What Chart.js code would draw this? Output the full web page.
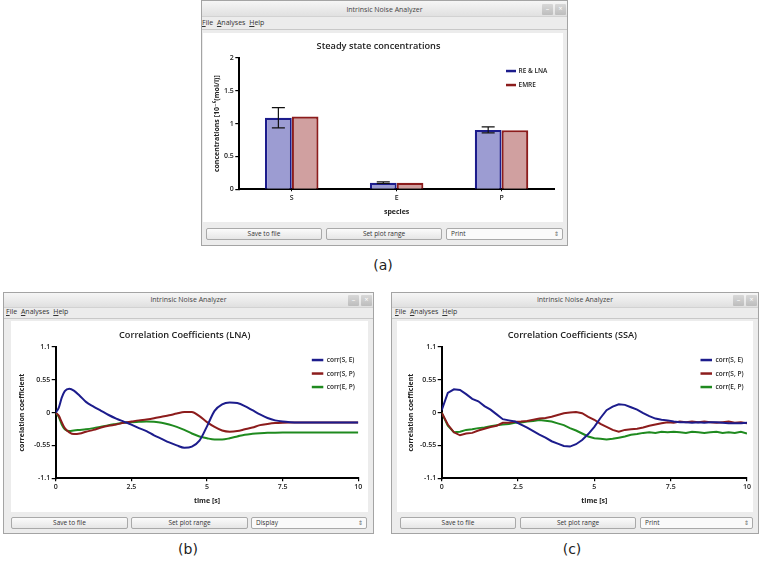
<!DOCTYPE html>
<html>
<head>
<meta charset="utf-8">
<script src="https://cdn.jsdelivr.net/npm/chart.js@4.4.1/dist/chart.umd.min.js"></script>
<style>
  body { margin: 0; width: 765px; height: 561px; background: #fff; position: relative; overflow: hidden; font-family: "Open Sans", "DejaVu Sans", sans-serif; color: #333; }
  .win { position: absolute; background: #ececec; border: 1px solid #a4a4a4; box-sizing: border-box; }
  .tbar { position: absolute; background: linear-gradient(#f6f6f6, #e0e0e0); font-size: 7px; color: #444; text-align: center; border-bottom: 1px solid #d2d2d2; box-sizing: border-box; }
  .wb { position: absolute; width: 11px; height: 11px; background: linear-gradient(#d8d8d8, #bdbdbd); border-radius: 1px; color: #fff; font-size: 7px; line-height: 10px; text-align: center; }
  .menu { position: absolute; font-size: 7px; color: #333; white-space: nowrap; }
  .menu span { margin-right: 2px; }
  .sep { position: absolute; height: 1px; background: #c8c8c8; }
  .panel { position: absolute; background: #fff; }
  .btn { position: absolute; height: 12px; border: 1px solid #a9a9a9; border-radius: 2px; background: linear-gradient(#fbfbfb, #e6e6e6); font-size: 6.5px; line-height: 10px; text-align: center; box-sizing: border-box; color: #333; }
  .combo { text-align: left; padding-left: 4px; background: #fafafa; }
  .combo i { position: absolute; right: 3px; top: 0; font-style: normal; font-size: 6px; color: #666; }
  .cap { position: absolute; font-size: 14px; color: #222; transform: translate(-50%, -50%); font-family: "DejaVu Sans", sans-serif; }
  canvas { position: absolute; }
</style>
</head>
<body>

<!-- (a) -->
<div class="win" style="left:201px;top:0px;width:367px;height:246px"></div>
<div class="tbar" style="left:202px;top:1px;width:365px;height:16px;line-height:17px">Intrinsic Noise Analyzer</div>
<div class="wb" style="left:542px;top:4px">&ndash;</div>
<div class="wb" style="left:555px;top:4px">&times;</div>
<div class="menu" style="left:202px;top:18px"><span><u>F</u>ile</span> <span><u>A</u>nalyses</span> <span><u>H</u>elp</span></div>
<div class="sep" style="left:202px;top:29px;width:365px"></div>
<div class="panel" style="left:203px;top:33px;width:360px;height:189px"></div>
<canvas id="steady" width="360" height="189" style="left:203px;top:33px"></canvas>
<div class="btn" style="left:206px;top:228px;width:116px">Save to file</div>
<div class="btn" style="left:326px;top:228px;width:116px">Set plot range</div>
<div class="btn combo" style="left:446px;top:228px;width:117px">Print<i>&#8661;</i></div>
<div class="cap" style="left:383px;top:265px">(a)</div>

<!-- (b) -->
<div class="win" style="left:3px;top:292px;width:371px;height:242px"></div>
<div class="tbar" style="left:4px;top:293px;width:369px;height:15px;line-height:14px">Intrinsic Noise Analyzer</div>
<div class="wb" style="left:348px;top:295px">&ndash;</div>
<div class="wb" style="left:361px;top:295px">&times;</div>
<div class="menu" style="left:6px;top:307px"><span><u>F</u>ile</span> <span><u>A</u>nalyses</span> <span><u>H</u>elp</span></div>
<div class="sep" style="left:4px;top:318px;width:369px"></div>
<div class="panel" style="left:11px;top:321px;width:357px;height:191px"></div>
<canvas id="lna" width="357" height="191" style="left:11px;top:321px"></canvas>
<div class="btn" style="left:11px;top:517px;width:117px">Save to file</div>
<div class="btn" style="left:131px;top:517px;width:117px">Set plot range</div>
<div class="btn combo" style="left:251px;top:517px;width:116px">Display<i>&#8661;</i></div>
<div class="cap" style="left:188px;top:549px">(b)</div>

<!-- (c) -->
<div class="win" style="left:391px;top:292px;width:368px;height:242px"></div>
<div class="tbar" style="left:392px;top:293px;width:366px;height:15px;line-height:14px">Intrinsic Noise Analyzer</div>
<div class="wb" style="left:733px;top:295px">&ndash;</div>
<div class="wb" style="left:746px;top:295px">&times;</div>
<div class="menu" style="left:395px;top:307px"><span><u>F</u>ile</span> <span><u>A</u>nalyses</span> <span><u>H</u>elp</span></div>
<div class="sep" style="left:392px;top:318px;width:366px"></div>
<div class="panel" style="left:397px;top:321px;width:356px;height:191px"></div>
<canvas id="ssa" width="356" height="191" style="left:397px;top:321px"></canvas>
<div class="btn" style="left:400px;top:517px;width:116px">Save to file</div>
<div class="btn" style="left:520px;top:517px;width:116px">Set plot range</div>
<div class="btn combo" style="left:640px;top:517px;width:113px">Print<i>&#8661;</i></div>
<div class="cap" style="left:572px;top:549px">(c)</div>

<script>
// steady state bars
const species = ["S", "E", "P"];
const reLna = [1.09, 0.1, 0.905];
const reLnaErr = [0.155, 0.012, 0.046];
const emre = [1.11, 0.1, 0.9];
const concTicks = [0, 0.5, 1, 1.5, 2];

// LNA correlation coefficients
const tLna = [0, 0.1, 0.2, 0.3, 0.45, 0.6, 0.8, 1, 1.25, 1.5, 1.75, 2, 2.25, 2.5, 2.75, 3, 3.25, 3.5, 3.75, 4,
  4.25, 4.5, 4.75, 5, 5.25, 5.5, 5.75, 6, 6.25, 6.5, 6.75, 7, 7.25, 7.5, 7.75, 8, 8.5, 9, 9.5, 10];
const lnaSE = [0, 0.08, 0.25, 0.36, 0.4, 0.37, 0.28, 0.18, 0.1, 0.03, -0.04, -0.1, -0.15, -0.2, -0.26, -0.31, -0.38, -0.44, -0.5, -0.55,
  -0.59, -0.57, -0.47, -0.23, 0.03, 0.14, 0.17, 0.16, 0.11, 0.04, -0.03, -0.09, -0.13, -0.15, -0.16, -0.165, -0.165, -0.165, -0.165, -0.165];
const lnaSP = [0, -0.05, -0.16, -0.26, -0.33, -0.36, -0.35, -0.32, -0.29, -0.25, -0.22, -0.2, -0.17, -0.15, -0.13, -0.115, -0.095, -0.07, -0.045, -0.015,
  0.01, 0.01, -0.06, -0.16, -0.24, -0.3, -0.32, -0.31, -0.28, -0.25, -0.21, -0.19, -0.175, -0.168, -0.165, -0.165, -0.165, -0.165, -0.165, -0.165];
const lnaEP = [0, -0.07, -0.2, -0.28, -0.31, -0.3, -0.29, -0.28, -0.26, -0.235, -0.21, -0.19, -0.17, -0.16, -0.155, -0.15, -0.155, -0.17, -0.2, -0.24,
  -0.29, -0.35, -0.4, -0.43, -0.45, -0.45, -0.43, -0.4, -0.37, -0.355, -0.345, -0.338, -0.336, -0.335, -0.335, -0.335, -0.335, -0.335, -0.335, -0.335];

// SSA correlation coefficients
const tSsa = [0, 0.2, 0.4, 0.6, 0.8, 1, 1.2, 1.4, 1.6, 1.8, 2, 2.2, 2.4, 2.6, 2.8, 3, 3.2, 3.4, 3.6, 3.8, 4, 4.2, 4.4, 4.6, 4.8,
  5, 5.2, 5.4, 5.6, 5.8, 6, 6.2, 6.4, 6.6, 6.8, 7, 7.2, 7.4, 7.6, 7.8, 8, 8.2, 8.4, 8.6, 8.8, 9, 9.2, 9.4, 9.6, 9.8, 10];
const ssaSE = [0.04, 0.33, 0.39, 0.38, 0.31, 0.23, 0.19, 0.11, 0.05, -0.03, -0.11, -0.13, -0.15, -0.2, -0.25, -0.31, -0.37, -0.42, -0.48, -0.52, -0.56, -0.57, -0.53, -0.46, -0.36,
  -0.24, -0.09, 0.04, 0.1, 0.14, 0.13, 0.09, 0.05, -0.01, -0.06, -0.1, -0.12, -0.13, -0.15, -0.16, -0.16, -0.17, -0.16, -0.17, -0.16, -0.16, -0.17, -0.18, -0.18, -0.18, -0.17];
const ssaSP = [0, -0.2, -0.33, -0.38, -0.35, -0.34, -0.3, -0.27, -0.24, -0.22, -0.17, -0.17, -0.155, -0.15, -0.14, -0.12, -0.1, -0.09, -0.07, -0.04, -0.01, 0, 0.01, -0.01, -0.07,
  -0.12, -0.19, -0.24, -0.29, -0.32, -0.29, -0.28, -0.27, -0.25, -0.22, -0.2, -0.18, -0.16, -0.17, -0.15, -0.16, -0.15, -0.16, -0.15, -0.16, -0.17, -0.16, -0.15, -0.17, -0.16, -0.18];
const ssaEP = [0, -0.22, -0.33, -0.32, -0.29, -0.28, -0.26, -0.25, -0.23, -0.21, -0.2, -0.19, -0.17, -0.165, -0.15, -0.14, -0.125, -0.135, -0.15, -0.18, -0.21, -0.26, -0.3, -0.35, -0.4,
  -0.43, -0.44, -0.45, -0.44, -0.42, -0.4, -0.37, -0.36, -0.34, -0.33, -0.34, -0.32, -0.33, -0.32, -0.33, -0.34, -0.32, -0.33, -0.34, -0.33, -0.32, -0.34, -0.33, -0.34, -0.32, -0.35];

const corrLabels = ["corr(S, E)", "corr(S, P)", "corr(E, P)"];
const corrTicks = [-1.1, -0.55, 0, 0.55, 1.1];
const timeTicks = [0, 2.5, 5, 7.5, 10];

const NAVY = "#1c1c8c";
const DARKRED = "#8c1c1c";
const GREEN = "#1f8a1f";
const FONT = "'Open Sans', 'DejaVu Sans', sans-serif";

Chart.defaults.font.family = FONT;
Chart.defaults.color = "#222";

// legend drawn inside the plot area, top right
const inLegend = {
  id: "inLegend",
  afterDraw(chart, args, opts) {
    const { ctx, chartArea } = chart;
    ctx.save();
    ctx.font = "600 6.5px " + FONT;
    ctx.textBaseline = "middle";
    ctx.fillStyle = "#222";
    chart.data.datasets.forEach((ds, i) => {
      const y = chartArea.top + opts.dy + i * opts.gap;
      ctx.strokeStyle = ds.borderColor;
      ctx.lineWidth = 2.5;
      ctx.beginPath();
      ctx.moveTo(chartArea.right + opts.x1, y);
      ctx.lineTo(chartArea.right + opts.x2, y);
      ctx.stroke();
      ctx.fillText(ds.label, chartArea.right + opts.tx, y + 0.5);
    });
    ctx.restore();
  },
};

// error bars on the first dataset
const errorBars = {
  id: "errorBars",
  afterDatasetsDraw(chart) {
    const { ctx } = chart;
    const yScale = chart.scales.y;
    const meta = chart.getDatasetMeta(0);
    ctx.save();
    ctx.strokeStyle = "#111";
    ctx.lineWidth = 1.2;
    meta.data.forEach((bar, i) => {
      const v = reLna[i], e = reLnaErr[i];
      const top = yScale.getPixelForValue(v + e);
      const bot = yScale.getPixelForValue(v - e);
      const x = bar.x;
      ctx.beginPath();
      ctx.moveTo(x, top); ctx.lineTo(x, bot);
      ctx.moveTo(x - 6.5, top); ctx.lineTo(x + 6.5, top);
      ctx.moveTo(x - 6.5, bot); ctx.lineTo(x + 6.5, bot);
      ctx.stroke();
    });
    ctx.restore();
  },
};

const tickFont = { size: 7, weight: "600" };
const axisTitleFont = { size: 7, weight: "bold" };
const titleFont = { size: 9.2, weight: "600" };

function yAxis(ticksList, min, max, width, titleText, titlePad) {
  return {
    min, max,
    afterBuildTicks: (s) => { s.ticks = ticksList.map((v) => ({ value: v })); },
    afterFit: (s) => { s.width = width; },
    ticks: { font: tickFont, color: "#222", padding: 1.5, callback: (v) => String(v) },
    grid: { drawOnChartArea: false, drawTicks: true, tickLength: 4, color: "#000", lineWidth: 1.2 },
    border: { display: true, color: "#000", width: 2 },
    title: { display: true, text: titleText, font: axisTitleFont, color: "#222", padding: { top: titlePad, bottom: 0 } },
  };
}

function xTitle(text, pad) {
  return { display: true, text, font: axisTitleFont, color: "#222", padding: { top: 0, bottom: pad } };
}

new Chart(document.getElementById("steady"), {
  type: "bar",
  data: {
    labels: species,
    datasets: [
      { label: "RE & LNA", data: reLna, backgroundColor: "#9c9cd2", borderColor: NAVY, borderWidth: 2.2 },
      { label: "EMRE", data: emre, backgroundColor: "#d0a0a0", borderColor: DARKRED, borderWidth: 2.2 },
    ],
  },
  options: {
    responsive: false,
    animation: false,
    devicePixelRatio: 1,
    barPercentage: 1,
    categoryPercentage: 0.51,
    layout: { padding: { left: 0, right: 9, top: 0, bottom: 0 } },
    plugins: {
      legend: { display: false },
      tooltip: { enabled: false },
      title: { display: true, text: "Steady state concentrations", font: titleFont, color: "#222", padding: { top: 7.5, bottom: 6.5 } },
      inLegend: { x1: -48, x2: -38, tx: -35.5, dy: 13, gap: 14 },
    },
    scales: {
      x: {
        afterFit: (s) => { s.height = 32.7; },
        ticks: { font: tickFont, color: "#222", padding: 2 },
        grid: { offset: false, drawOnChartArea: false, drawTicks: true, tickLength: 2, color: "#000", lineWidth: 1 },
        border: { display: true, color: "#000", width: 2 },
        title: xTitle("species", 6),
      },
      y: yAxis(concTicks, 0, 2, 36.3, "concentrations [10\u207B\u2076(mol/l)]", 10),
    },
  },
  plugins: [inLegend, errorBars],
});

function corrChart(id, title, t, se, sp, ep, smooth, yWidth, rightPad, yTitlePad) {
  const pts = (arr) => t.map((x, i) => ({ x, y: arr[i] }));
  const ds = (label, arr, color) => ({
    label, data: pts(arr), borderColor: color, backgroundColor: color,
    borderWidth: 2, pointRadius: 0, tension: smooth ? 0.4 : 0,
    cubicInterpolationMode: smooth ? "monotone" : "default",
  });
  return new Chart(document.getElementById(id), {
    type: "line",
    data: {
      datasets: [ds(corrLabels[0], se, NAVY), ds(corrLabels[1], sp, DARKRED), ds(corrLabels[2], ep, GREEN)],
    },
    options: {
      responsive: false,
      animation: false,
      devicePixelRatio: 1,
      layout: { padding: { left: 0, right: rightPad, top: 0, bottom: 0 } },
      plugins: {
        legend: { display: false },
        tooltip: { enabled: false },
        title: { display: true, text: title, font: titleFont, color: "#222", padding: { top: 8.5, bottom: 6.5 } },
        inLegend: { x1: -46.5, x2: -35, tx: -31.5, dy: 13, gap: 13.5 },
      },
      scales: {
        x: {
          type: "linear", min: 0, max: 10,
          afterBuildTicks: (s) => { s.ticks = timeTicks.map((v) => ({ value: v })); },
          afterFit: (s) => { s.height = 33.8; },
          ticks: { font: tickFont, color: "#222", padding: 2, callback: (v) => String(v) },
          grid: { drawOnChartArea: false, drawTicks: true, tickLength: 3, color: "#000", lineWidth: 1.2 },
          border: { display: true, color: "#000", width: 2 },
          title: xTitle("time [s]", 6.8),
        },
        y: yAxis(corrTicks, -1.1, 1.1, yWidth, "correlation coefficient", yTitlePad),
      },
    },
    plugins: [inLegend],
  });
}

corrChart("lna", "Correlation Coefficients (LNA)", tLna, lnaSE, lnaSP, lnaEP, true, 44.7, 9.7, 6.8);
corrChart("ssa", "Correlation Coefficients (SSA)", tSsa, ssaSE, ssaSP, ssaEP, false, 44.7, 5.3, 9.8);
</script>
</body>
</html>
